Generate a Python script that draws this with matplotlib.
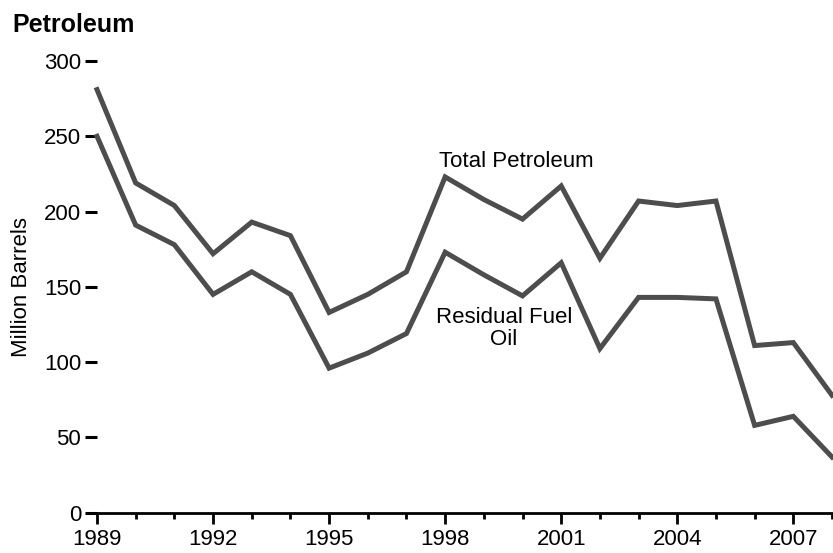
import matplotlib.pyplot as plt
import numpy as np

years = np.arange(1989, 2009)
total_petroleum = [281, 219, 204, 172, 193, 184, 133, 145, 160, 223,
                   208, 195, 217, 169, 207, 204, 207, 111, 113, 78]
residual_fuel = [250, 191, 178, 145, 160, 145, 96, 106, 119, 173,
                 158, 144, 166, 109, 143, 143, 142, 58, 64, 37]
major_years = np.arange(1989, 2008, 3)
y_ticks = np.arange(0, 301, 50)

line_color = '#4d4d4d'

plt.rcParams['font.family'] = ['Liberation Sans', 'DejaVu Sans']

fig = plt.figure(figsize=(8.33, 5.53), dpi=100)
ax = fig.add_axes([97/833, 40.3/553, 735/833, 451.7/553])

ax.plot(years, total_petroleum, color=line_color, lw=3.6, clip_on=False,
        solid_joinstyle='miter')
ax.plot(years, residual_fuel, color=line_color, lw=3.6, clip_on=False,
        solid_joinstyle='miter')

ax.set_xlim(1989, 2008)
ax.set_ylim(0, 300)

ax.set_xticks(major_years)
ax.set_xticks(years, minor=True)
ax.set_yticks(y_ticks)

ax.tick_params(axis='x', which='major', length=7.7, width=2, labelsize=16, pad=4)
ax.tick_params(axis='x', which='minor', length=4, width=2)
ax.tick_params(axis='y', length=8.5, width=2.2, labelsize=16, pad=3)

for s in ['top', 'right', 'left']:
    ax.spines[s].set_visible(False)
ax.spines['bottom'].set_linewidth(2)

ax.set_ylabel('Million Barrels', fontsize=16)
ax.yaxis.set_label_coords(-0.088, 0.5)

ax.text(1999.85, 233.5, 'Total Petroleum', fontsize=16, ha='center', va='center')
ax.text(1999.52, 122.6, 'Residual Fuel\nOil', fontsize=16, ha='center',
        va='center', linespacing=1.05)

fig.text(12/833, 1 - 32/553, 'Petroleum', fontsize=18, fontweight='bold',
         ha='left', va='baseline')

plt.savefig('out.png', dpi=100)
